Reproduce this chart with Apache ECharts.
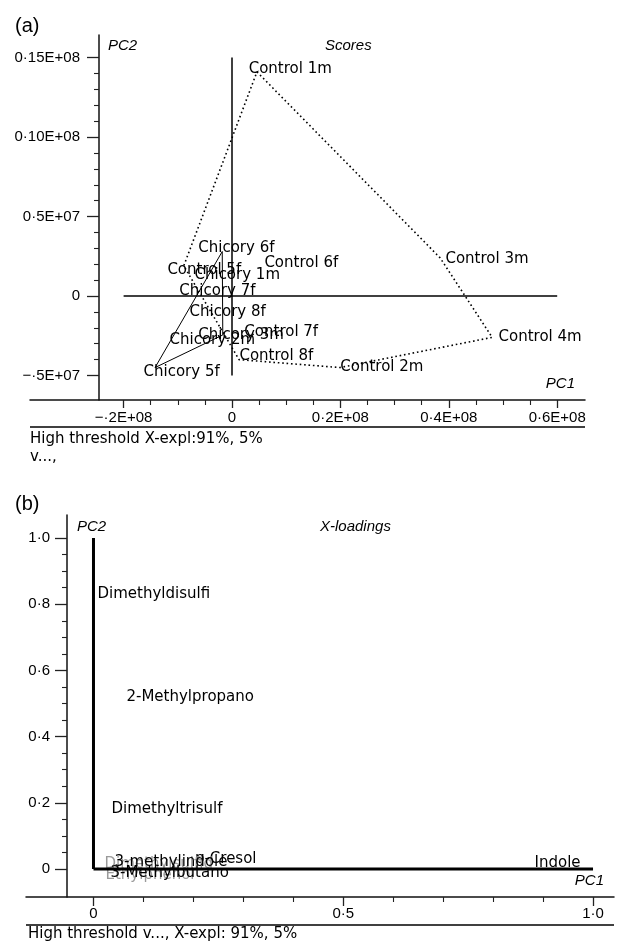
<!DOCTYPE html>
<html>
<head>
<meta charset="utf-8">
<script src="https://cdn.jsdelivr.net/npm/echarts@6/dist/echarts.min.js"></script>
<style>
  html, body { margin: 0; padding: 0; background: #fff; }
  #main { width: 618px; height: 941px; }
</style>
</head>
<body>
<div id="main"></div>
<script>
// (a) Scores, PC1 / PC2 in units of 1E7
var scoreNames = ['Control 1m', 'Control 2m', 'Control 3m', 'Control 4m', 'Control 5f', 'Control 6f', 'Control 7f', 'Control 8f',
                  'Chicory 1m', 'Chicory 2m', 'Chicory 3m', 'Chicory 5f', 'Chicory 6f', 'Chicory 7f', 'Chicory 8f'];
var scorePC1 = [0.28, 1.97, 3.91, 4.89, -1.22, 0.57, 0.20, 0.11,
                -0.72, -1.18, -0.65, -1.66, -0.65, -1.00, -0.81];
var scorePC2 = [1.43, -0.45, 0.23, -0.26, 0.16, 0.21, -0.23, -0.38,
                0.13, -0.28, -0.245, -0.48, 0.30, 0.03, -0.10];
// group outlines
var controlHullPC1 = [0.46, 3.84, 4.80, 1.99, 0.13, -0.89];
var controlHullPC2 = [1.41, 0.24, -0.26, -0.45, -0.40, 0.19];
var chicoryHullPC1 = [-0.18, -1.42, -0.17];
var chicoryHullPC2 = [0.28, -0.45, -0.245];

var scoreXTicks = [-2, 0, 2, 4, 6];
var scoreXLabels = ['\u2212\u00b72E+08', '0', '0\u00b72E+08', '0\u00b74E+08', '0\u00b76E+08'];
var scoreYTicks = [-0.5, 0, 0.5, 1.0, 1.5];
var scoreYLabels = ['\u2212\u00b75E+07', '0', '0\u00b75E+07', '0\u00b710E+08', '0\u00b715E+08'];

// (b) X-loadings
var loadNames = ['Dimethyldisulfi', '2-Methylpropano', 'Dimethyltrisulf', 'p-Cresol', 'Indole',
                 'Dimethylsulfid', 'Ethylphenol', '3-methylindole', '3-Methylbutano'];
var loadPC1 = [0.005, 0.063, 0.033, 0.20, 0.88, 0.019, 0.021, 0.039, 0.031];
var loadPC2 = [0.83, 0.52, 0.18, 0.03, 0.018, 0.015, -0.018, 0.021, -0.012];
var fadedNames = ['Dimethylsulfid', 'Ethylphenol'];

var loadXTicks = [0, 0.5, 1.0];
var loadXLabels = ['0', '0\u00b75', '1\u00b70'];
var loadYTicks = [0, 0.2, 0.4, 0.6, 0.8, 1.0];
var loadYLabels = ['0', '0\u00b72', '0\u00b74', '0\u00b76', '0\u00b78', '1\u00b70'];

var tickFont = 'Liberation Sans';
var textFont = 'DejaVu Sans';

function minorTicks(ticks, n) {
    var out = [];
    for (var i = 0; i < ticks.length - 1; i++) {
        var step = (ticks[i + 1] - ticks[i]) / n;
        for (var k = 1; k < n; k++) out.push(ticks[i] + step * k);
    }
    return out;
}

function pairs(xs, ys, close) {
    var out = [];
    for (var i = 0; i < xs.length; i++) out.push([xs[i], ys[i]]);
    if (close) out.push([xs[0], ys[0]]);
    return out;
}

function labelled(names, xs, ys) {
    var out = [];
    for (var i = 0; i < names.length; i++) {
        var item = { name: names[i], value: [xs[i], ys[i]] };
        if (fadedNames.indexOf(names[i]) >= 0) item.label = { color: '#9a9a9a' };
        out.push(item);
    }
    return out;
}

// major axis: line, long ticks, labels
function majorAxis(grid, pos, min, max, ticks, labels, tickLen, margin, offset) {
    return {
        type: 'value', gridIndex: grid, position: pos, min: min, max: max, offset: offset || 0,
        axisLine: { show: true, onZero: false, lineStyle: { color: '#111', width: 1.5 } },
        axisTick: { show: true, customValues: ticks, length: tickLen, lineStyle: { color: '#222', width: 1.3 } },
        axisLabel: {
            show: true, customValues: ticks, margin: margin, color: '#000',
            fontFamily: tickFont, fontSize: 15,
            formatter: function (v) {
                for (var i = 0; i < ticks.length; i++) {
                    if (Math.abs(ticks[i] - v) < 1e-9) return labels[i];
                }
                return '';
            }
        },
        splitLine: { show: false }
    };
}

// minor ticks only
function minorAxis(grid, pos, min, max, ticks, tickLen, offset) {
    return {
        type: 'value', gridIndex: grid, position: pos, min: min, max: max, offset: offset || 0,
        axisLine: { show: false, onZero: false },
        axisTick: { show: true, customValues: ticks, length: tickLen, lineStyle: { color: '#222', width: 1.1 } },
        axisLabel: { show: false },
        splitLine: { show: false }
    };
}

var myChart = echarts.init(document.getElementById('main'));

var sxMin = -3.727, sxMax = 6.513, syMin = -0.654, syMax = 1.642;
var lxMin = -0.1351, lxMax = 1.042, lyMin = -0.0846, lyMax = 1.0695;

var labelStyle = { show: true, position: 'right', distance: 1, formatter: '{b}', opacity: 1,
                   color: '#000', fontFamily: textFont, fontSize: 15 };

var option = {
    animation: false,
    backgroundColor: '#fff',
    grid: [
        { left: 30, top: 35, width: 555, height: 365 },
        { left: 26, top: 515, width: 588, height: 382 }
    ],
    xAxis: [
        majorAxis(0, 'bottom', sxMin, sxMax, scoreXTicks, scoreXLabels, 8, 10),
        minorAxis(0, 'bottom', sxMin, sxMax, minorTicks(scoreXTicks, 4), 5),
        majorAxis(1, 'bottom', lxMin, lxMax, loadXTicks, loadXLabels, 9, 9),
        minorAxis(1, 'bottom', lxMin, lxMax, minorTicks(loadXTicks, 5), 5)
    ],
    yAxis: [
        majorAxis(0, 'left', syMin, syMax, scoreYTicks, scoreYLabels, 12, 19, -69),
        minorAxis(0, 'left', syMin, syMax, minorTicks(scoreYTicks, 5), 5, -69),
        majorAxis(1, 'left', lyMin, lyMax, loadYTicks, loadYLabels, 12, 17, -41),
        minorAxis(1, 'left', lyMin, lyMax, minorTicks(loadYTicks, 4), 5, -41)
    ],
    series: [
        // scores: zero lines
        { type: 'line', xAxisIndex: 0, yAxisIndex: 0, symbol: 'none', silent: true,
          lineStyle: { color: '#000', width: 1.5 },
          data: [[scoreXTicks[0], 0], [scoreXTicks[scoreXTicks.length - 1], 0]] },
        { type: 'line', xAxisIndex: 0, yAxisIndex: 0, symbol: 'none', silent: true,
          lineStyle: { color: '#000', width: 1.5 },
          data: [[0, scoreYTicks[0]], [0, scoreYTicks[scoreYTicks.length - 1]]] },
        // control group outline
        { type: 'line', xAxisIndex: 0, yAxisIndex: 0, symbol: 'none', silent: true,
          lineStyle: { color: '#000', width: 1.6, type: [1.6, 2.8] },
          data: pairs(controlHullPC1, controlHullPC2, true) },
        // chicory group outline
        { type: 'line', xAxisIndex: 0, yAxisIndex: 0, symbol: 'none', silent: true,
          lineStyle: { color: '#000', width: 1 },
          data: pairs(chicoryHullPC1, chicoryHullPC2, true) },
        { type: 'scatter', xAxisIndex: 0, yAxisIndex: 0, symbolSize: 1, silent: true,
          itemStyle: { color: 'rgba(0,0,0,0)' }, label: labelStyle,
          data: labelled(scoreNames, scorePC1, scorePC2) },

        // loadings: zero lines
        { type: 'line', xAxisIndex: 2, yAxisIndex: 2, symbol: 'none', silent: true,
          lineStyle: { color: '#000', width: 3 },
          data: [[loadXTicks[0], 0], [loadXTicks[loadXTicks.length - 1], 0]] },
        { type: 'line', xAxisIndex: 2, yAxisIndex: 2, symbol: 'none', silent: true,
          lineStyle: { color: '#000', width: 3 },
          data: [[0, loadYTicks[0]], [0, loadYTicks[loadYTicks.length - 1]]] },
        { type: 'scatter', xAxisIndex: 2, yAxisIndex: 2, symbolSize: 1, silent: true,
          itemStyle: { color: 'rgba(0,0,0,0)' }, label: labelStyle,
          data: labelled(loadNames, loadPC1, loadPC2) }
    ],
    graphic: [
        { type: 'text', left: 15, top: 16, style: { text: '(a)', fill: '#000', font: '20px "Liberation Sans"' } },
        { type: 'text', left: 108, top: 38, style: { text: 'PC2', fill: '#000', font: 'italic 15px "Liberation Sans"' } },
        { type: 'text', left: 325, top: 38, style: { text: 'Scores', fill: '#000', font: 'italic 15px "Liberation Sans"' } },
        { type: 'text', right: 43, top: 376, style: { text: 'PC1', fill: '#000', font: 'italic 15px "Liberation Sans"' } },
        { type: 'line', shape: { x1: 30, y1: 427, x2: 585, y2: 427 }, style: { stroke: '#000', lineWidth: 1.5 } },
        { type: 'text', left: 30, top: 430, style: { text: 'High threshold X-expl:91%, 5%\nv...,', fill: '#000',
          font: '15px "DejaVu Sans"', lineHeight: 18 } },

        { type: 'text', left: 15, top: 494, style: { text: '(b)', fill: '#000', font: '20px "Liberation Sans"' } },
        { type: 'text', left: 77, top: 519, style: { text: 'PC2', fill: '#000', font: 'italic 15px "Liberation Sans"' } },
        { type: 'text', left: 320, top: 519, style: { text: 'X-loadings', fill: '#000', font: 'italic 15px "Liberation Sans"' } },
        { type: 'text', right: 14, top: 873, style: { text: 'PC1', fill: '#000', font: 'italic 15px "Liberation Sans"' } },
        { type: 'line', shape: { x1: 26, y1: 925, x2: 614, y2: 925 }, style: { stroke: '#000', lineWidth: 1.5 } },
        { type: 'text', left: 28, top: 927, style: { text: 'High threshold v..., X-expl: 91%, 5%', fill: '#000',
          font: '15px "DejaVu Sans"' } }
    ]
};
myChart.setOption(option);
</script>
</body>
</html>
